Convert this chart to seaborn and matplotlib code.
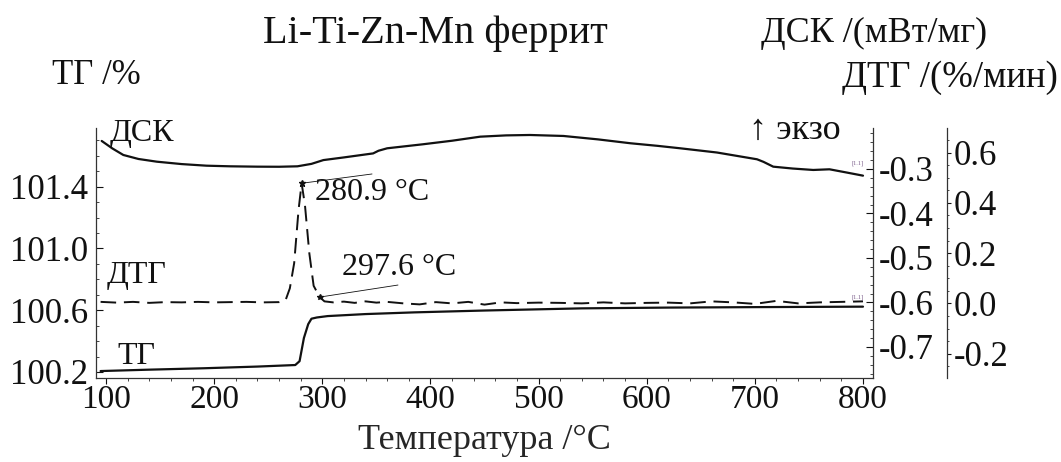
import numpy as np
import pandas as pd
import seaborn as sns
import matplotlib.pyplot as plt
from matplotlib.ticker import MultipleLocator

# Thermal analysis curves of Li-Ti-Zn-Mn ferrite
dsc_t = [96, 106, 116, 130, 147, 170, 193, 215, 240, 260, 277, 290, 301, 320, 347, 352, 360,
         393, 420, 446, 470, 492, 523, 555, 585, 610, 631, 665, 702, 708, 717, 735, 754, 769, 785, 800]
dsc_v = [-0.237, -0.254, -0.2685, -0.2775, -0.2836, -0.2890, -0.2926, -0.2940, -0.2948, -0.2950,
         -0.294, -0.2885, -0.280, -0.2740, -0.265, -0.2590, -0.2535, -0.2445, -0.2365, -0.2274,
         -0.2245, -0.2236, -0.2258, -0.2335, -0.2422, -0.2480, -0.2535, -0.2630, -0.2782, -0.2840,
         -0.2948, -0.2990, -0.3022, -0.3007, -0.3080, -0.315]

tg_t = [95, 140, 190, 240, 275, 279, 283, 287, 290, 295, 305, 340, 385, 450, 540, 620, 700, 800]
tg_v = [100.206, 100.215, 100.224, 100.235, 100.245, 100.27, 100.42, 100.51, 100.545, 100.553,
        100.562, 100.575, 100.586, 100.598, 100.612, 100.617, 100.62, 100.623]

dtg_t = [95, 110, 125, 140, 155, 170, 185, 200, 215, 230, 245, 260, 266, 270, 274, 278, 280.9,
         284, 288, 292, 297.6, 302, 310, 320, 330, 340, 350, 360, 375, 390, 405, 420, 435, 450,
         465, 480, 500, 520, 540, 560, 580, 600, 620, 640, 660, 680, 700, 720, 740, 760, 780, 800]
dtg_v = [0.006, 0.003, 0.006, 0.002, 0.005, 0.004, 0.006, 0.004, 0.005, 0.006, 0.004, 0.005,
         0.012, 0.06, 0.16, 0.37, 0.478, 0.39, 0.2, 0.07, 0.025, 0.008, 0.004, 0.007, 0.002,
         0.008, 0.003, 0.006, 0.0, -0.004, 0.005, 0.0, 0.006, -0.005, 0.004, 0.001, 0.003,
         0.002, 0.0, 0.004, 0.0, 0.002, 0.003, 0.0, 0.008, 0.004, -0.002, 0.01, 0.0, 0.004,
         0.006, 0.008]

peak_labels = [280.9, 297.6]

x_ticks = [100, 200, 300, 400, 500, 600, 700, 800]
tg_ticks = [100.2, 100.6, 101.0, 101.4]
dsc_ticks = [-0.3, -0.4, -0.5, -0.6, -0.7]
dtg_ticks = [0.6, 0.4, 0.2, 0.0, -0.2]

dsc = pd.DataFrame({"t": dsc_t, "v": dsc_v})
tg = pd.DataFrame({"t": tg_t, "v": tg_v})
dtg = pd.DataFrame({"t": dtg_t, "v": dtg_v})

sns.set_theme(style="ticks")
plt.rcParams["font.family"] = ["Liberation Serif", "DejaVu Serif"]

W, H = 1061, 462
fig = plt.figure(figsize=(W / 100, H / 100), dpi=100)
fig.patch.set_facecolor("white")

def fx(px):
    return px / W

def fy(py):
    return 1 - py / H

ax = fig.add_axes([fx(96), fy(378), fx(873) - fx(96), (378 - 128) / H])
ax.set_facecolor("white")
ax2 = ax.twinx()
ax3 = ax.twinx()

ytick_fs = 25
xtick_fs = 24
lc = "#111111"

# TG (left axis)
sns.lineplot(data=tg, x="t", y="v", ax=ax, color=lc, lw=1.6, estimator=None, sort=False)
ax.set_xlim(90.75, 809.25)
ax.set_ylim(100.161, 101.78)
ax.set_xticks(x_ticks)
ax.xaxis.set_minor_locator(MultipleLocator(20))
ax.set_yticks(tg_ticks)
ax.set_yticklabels([f"{v:.1f}" for v in tg_ticks])
ax.yaxis.set_minor_locator(MultipleLocator(0.1))
ax.set_xlabel("Температура /°C", fontsize=26, labelpad=6)
ax.set_ylabel("")
ax.tick_params(axis="x", direction="out", length=4, width=0.8, labelsize=xtick_fs, pad=1, colors=lc)
ax.tick_params(axis="x", which="minor", direction="out", length=2, width=0.6)
ax.tick_params(axis="y", direction="in", length=5, width=0.8, labelsize=ytick_fs, pad=6, colors=lc)
ax.tick_params(axis="y", which="minor", direction="in", length=2.5, width=0.6)
ax.spines["top"].set_visible(False)
ax.spines["right"].set_visible(False)
for s in ("left", "bottom"):
    ax.spines[s].set_linewidth(0.9)
    ax.spines[s].set_color("#333333")

# DSC (inner right axis)
sns.lineplot(data=dsc, x="t", y="v", ax=ax2, color=lc, lw=1.6, estimator=None, sort=False)
ax2.set_ylim(-0.7697, -0.2079)
ax2.set_yticks(dsc_ticks)
ax2.set_yticklabels([f"{v:.1f}" for v in dsc_ticks])
ax2.yaxis.set_minor_locator(MultipleLocator(0.02))
ax2.set_ylabel("")
ax2.tick_params(axis="y", direction="in", length=5, width=0.8, labelsize=ytick_fs, pad=4, colors=lc)
ax2.tick_params(axis="y", which="minor", direction="in", length=2.5, width=0.6)
for s in ("top", "left", "bottom"):
    ax2.spines[s].set_visible(False)
ax2.spines["right"].set_linewidth(0.9)
ax2.spines["right"].set_color("#333333")

# DTG (outer right axis)
sns.lineplot(data=dtg, x="t", y="v", ax=ax3, color=lc, lw=1.4, estimator=None, sort=False)
ax3.lines[0].set_dashes((8, 4))
ax3.set_ylim(-0.297, 0.698)
ax3.set_yticks(dtg_ticks)
ax3.set_yticklabels([f"{v:.1f}" for v in dtg_ticks])
ax3.yaxis.set_minor_locator(MultipleLocator(0.05))
ax3.set_ylabel("")
ax3.spines["right"].set_position(("axes", (947 - 96) / (873 - 96)))
ax3.tick_params(axis="y", direction="out", length=3, width=0.8, labelsize=ytick_fs, pad=2, colors=lc)
ax3.tick_params(axis="y", which="minor", direction="out", length=1.5, width=0.6)
for s in ("top", "left", "bottom"):
    ax3.spines[s].set_visible(False)
ax3.spines["right"].set_linewidth(0.9)
ax3.spines["right"].set_color("#333333")

# Peak annotations on the DTG curve
p1 = peak_labels[0]
p1_v = dtg_v[dtg_t.index(p1)]
p2 = peak_labels[1]
p2_v = dtg_v[dtg_t.index(p2)]
ax3.plot([p1], [p1_v], marker="*", ms=5, color=lc)
ax3.plot([p1, 346], [p1_v, 0.515], color=lc, lw=0.6)
ax3.text(293.3, 0.443, f"{p1:.1f} °C", fontsize=23, va="center", ha="left", color=lc)
ax3.plot([p2], [p2_v], marker="*", ms=4, color=lc)
ax3.plot([p2, 370], [p2_v, 0.073], color=lc, lw=0.6)
ax3.text(318, 0.141, f"{p2:.1f} °C", fontsize=23, va="center", ha="left", color=lc)

# Segment markers at the curve ends
ax2.text(795, -0.293, "[1.1]", fontsize=4.5, color="#7a5c8a", ha="center", va="bottom")
ax3.text(795, 0.012, "[1.1]", fontsize=4.5, color="#7a5c8a", ha="center", va="bottom")

# Curve names
fig.text(fx(142), fy(133), "ДСК", fontsize=23, ha="center", va="center", color=lc)
fig.text(fx(137), fy(275), "ДТГ", fontsize=23, ha="center", va="center", color=lc)
fig.text(fx(136), fy(356), "ТГ", fontsize=23, ha="center", va="center", color=lc)
fig.text(fx(795), fy(130), "↑ экзо", fontsize=26, ha="center", va="center", color=lc)

# Titles and axis headings
fig.text(fx(435), fy(33), "Li-Ti-Zn-Mn феррит", fontsize=29, ha="center", va="center", color=lc)
fig.text(fx(874), fy(33), "ДСК /(мВт/мг)", fontsize=26, ha="center", va="center", color=lc)
fig.text(fx(950), fy(78), "ДТГ /(%/мин)", fontsize=26.5, ha="center", va="center", color=lc)
fig.text(fx(96), fy(75), "ТГ /%", fontsize=25, ha="center", va="center", color=lc)

fig.savefig("out.png", dpi=100, facecolor="white")
